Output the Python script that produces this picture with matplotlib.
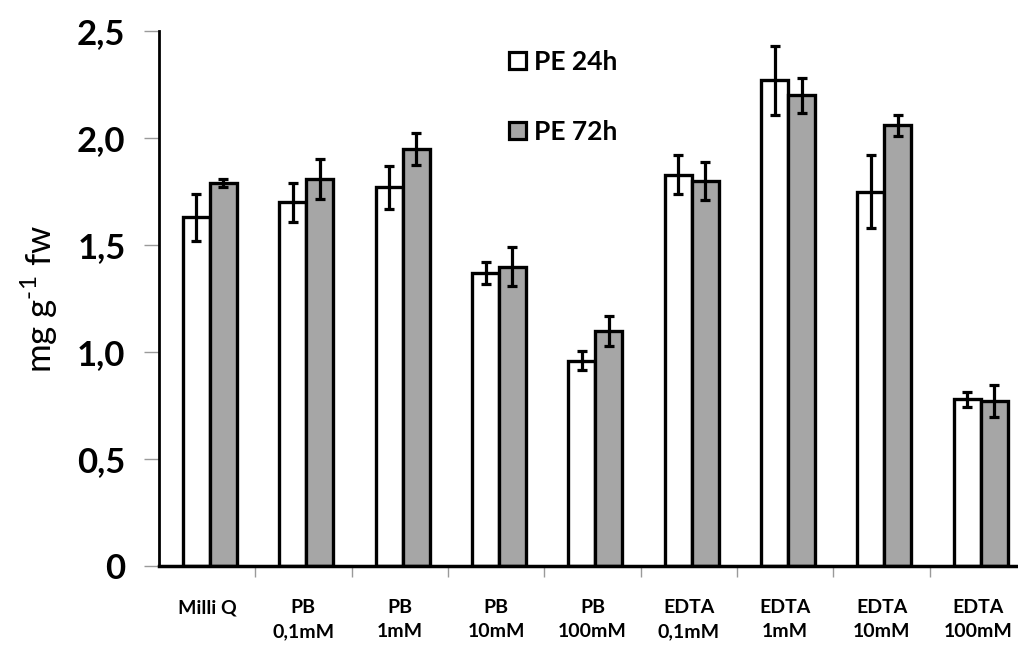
import numpy as np
import matplotlib.pyplot as plt
from matplotlib.patches import Patch

plt.rcParams['font.family'] = ['Lato', 'DejaVu Sans']
plt.rcParams['mathtext.fontset'] = 'custom'
plt.rcParams['mathtext.rm'] = 'Lato'

# treatments (two-line tick labels)
categories = ['Milli Q', 'PB\n0,1mM', 'PB\n1mM', 'PB\n10mM', 'PB\n100mM',
              'EDTA\n0,1mM', 'EDTA\n1mM', 'EDTA\n10mM', 'EDTA\n100mM']

# PE content, mg g-1 fw
pe_24h = [1.63, 1.70, 1.77, 1.37, 0.96, 1.83, 2.27, 1.75, 0.78]
pe_24h_err = [0.11, 0.09, 0.10, 0.05, 0.045, 0.09, 0.16, 0.17, 0.035]
pe_72h = [1.79, 1.81, 1.95, 1.40, 1.10, 1.80, 2.20, 2.06, 0.77]
pe_72h_err = [0.02, 0.095, 0.075, 0.09, 0.07, 0.09, 0.08, 0.05, 0.075]

yticks = [0, 0.5, 1.0, 1.5, 2.0, 2.5]
yticklabels = ['0', '0,5', '1,0', '1,5', '2,0', '2,5']

fig = plt.figure(figsize=(10.18, 6.52), dpi=100)
ax = fig.add_axes([0.156, 0.132, 0.852, 0.820])

x = np.arange(len(categories))
w = 0.28
bar_kw = dict(width=w, edgecolor='black', linewidth=2.4, zorder=2)
err_kw = dict(ecolor='black', elinewidth=2.3, capsize=3.5, capthick=2.3)

ax.bar(x - w / 2 + 0.03, pe_24h, color='white', yerr=pe_24h_err,
       error_kw=err_kw, **bar_kw)
ax.bar(x + w / 2 + 0.03, pe_72h, color='#a6a6a6', yerr=pe_72h_err,
       error_kw=err_kw, **bar_kw)

ax.set_xlim(-0.5, 8.5)
ax.set_ylim(0, 2.5)

ax.set_yticks(yticks)
ax.set_yticklabels(yticklabels, fontsize=25, fontweight='bold')
ax.tick_params(axis='y', direction='out', length=11, width=1, color='#9a9a9a', pad=13)

# labels at the centres, tick marks on the category boundaries
ax.set_xticks(x)
ax.set_xticklabels(categories, fontsize=14, fontweight='bold', linespacing=1.5)
ax.tick_params(axis='x', which='major', length=0, pad=24)
ax.set_xticks(np.arange(0.5, 8.5, 1), minor=True)
ax.tick_params(axis='x', which='minor', direction='out', length=8, width=1,
               color='#9a9a9a')

ax.set_ylabel('mg g$^{\\mathregular{\u20101}}$ fw', fontsize=25, labelpad=12)

for side in ['top', 'right']:
    ax.spines[side].set_visible(False)
ax.spines['left'].set_linewidth(2)
ax.spines['bottom'].set_linewidth(2.5)

handles = [Patch(facecolor='white', edgecolor='black', linewidth=2.3),
           Patch(facecolor='#a6a6a6', edgecolor='black', linewidth=2.3)]
ax.legend(handles, ['PE 24h', 'PE 72h'], loc='upper left',
          bbox_to_anchor=(0.376, 1.01), frameon=False,
          prop=dict(size=19, weight='bold'),
          handlelength=0.65, handleheight=0.65, handletextpad=0.3,
          labelspacing=1.75)

fig.savefig('out.png', dpi=100)
